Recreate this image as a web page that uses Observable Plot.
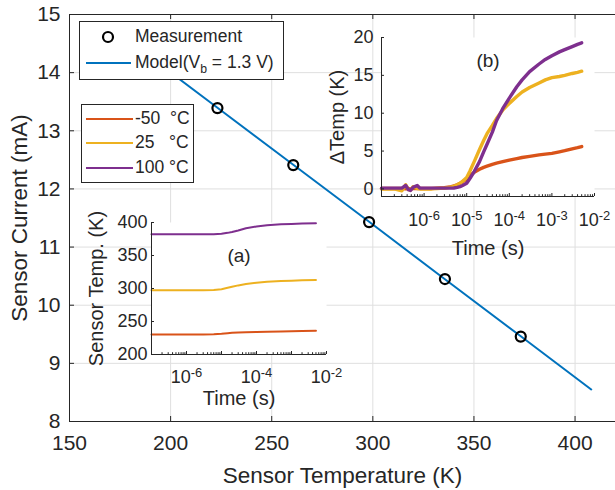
<!DOCTYPE html>
<html>
<head>
<meta charset="utf-8">
<script src="https://cdn.jsdelivr.net/npm/d3@7"></script>
<script src="https://cdn.jsdelivr.net/npm/@observablehq/plot@0.6"></script>
<style>
  body { margin: 0; background: white; }
  #wrap { position: relative; width: 615px; height: 490px; overflow: hidden; font-family: "Liberation Sans", Arial, sans-serif; color: #262626; }
  .abs { position: absolute; }
  .legend { position: absolute; background: white; border: 1px solid #262626; box-sizing: border-box; font-size: 17.5px; }
  .row { position: absolute; left: 0; white-space: pre; line-height: 1; }
</style>
</head>
<body>
<div id="wrap">
  <div id="main" class="abs" style="left:0;top:0"></div>
  <div id="insetA" class="abs" style="left:90px;top:210px"></div>
  <div id="insetB" class="abs" style="left:300px;top:20px"></div>
  <div id="leg1" class="legend" style="left:79px;top:21px;width:205px;height:59px"></div>
  <div id="leg2" class="legend" style="left:81px;top:104px;width:113px;height:79px"></div>
</div>
<script>
const FONT = '"Liberation Sans", Arial, sans-serif';
const INK = "#262626";
const GRID = "#dfdfdf";

// ---------- main chart data ----------
const mainXTicks = [150, 200, 250, 300, 350, 400];
const mainYTicks = [8, 9, 10, 11, 12, 13, 14, 15];
const measT = [223.15, 260.65, 298.15, 335.65, 373.15];
const measI = [13.39, 12.41, 11.43, 10.45, 9.46];
const modelT = [173, 223, 260.5, 298, 335.5, 373, 408];
const modelI = [14.71, 13.40, 12.42, 11.44, 10.45, 9.47, 8.55];

// ---------- series (legend) ----------
const seriesNames = ["-50  °C", "25   °C", "100 °C"];
const seriesColors = ["#D95319", "#EDB120", "#7E2F8E"];

// ---------- inset (a): sensor temperature vs time ----------
const tA = [1e-7, 1e-6, 3e-6, 6e-6, 1e-5, 1.5e-5, 2e-5, 3e-5, 5e-5, 1e-4, 2e-4, 5e-4, 1e-3, 2e-3, 5e-3];
const sTm50 = [230.3, 230.3, 230.4, 230.8, 231.5, 232.3, 232.8, 233.3, 233.7, 234.1, 234.4, 234.8, 235.1, 235.5, 236.0];
const sT25  = [297.4, 297.4, 297.5, 297.9, 298.9, 301.0, 302.6, 304.7, 306.7, 308.7, 310.2, 311.3, 311.9, 312.4, 312.9];
const sT100 = [382.2, 382.2, 382.2, 382.3, 382.8, 384.3, 385.7, 388.0, 391.2, 393.9, 395.9, 397.3, 397.9, 398.4, 399.0];
const aYTicks = [200, 250, 300, 350, 400];
const aXLabelTicks = [1e-6, 1e-4, 1e-2];

// ---------- inset (b): delta temperature vs time ----------
const tB = [1e-7, 2e-7, 3e-7, 3.7e-7, 4.3e-7, 4.8e-7, 5.5e-7, 6.9e-7, 8e-7, 1e-6, 1.5e-6, 2e-6, 3e-6, 4e-6, 5e-6, 6e-6, 7e-6, 8e-6, 1e-5, 1.2e-5, 1.5e-5, 2e-5, 2.5e-5, 3e-5, 4e-5, 5e-5, 7e-5, 1e-4, 1.5e-4, 2e-4, 3e-4, 5e-4, 7e-4, 1e-3, 1.5e-3, 2e-3, 3e-3, 4e-3, 5e-3];
const dTm50 = [0.05,0.05,0.05,0.0,0.05,0.0,0.05,0.05,0.05,0.05,0.05,0.1,0.15,0.25,0.4,0.55,0.75,0.95,1.3,1.8,2.2,2.6,2.85,3.0,3.25,3.4,3.6,3.8,4.0,4.15,4.3,4.5,4.6,4.7,4.9,5.05,5.3,5.45,5.6];
const dT25  = [0.0,0.0,-0.25,0.55,-0.1,-0.15,0.3,0.05,0.0,0.0,0.0,0.05,0.1,0.2,0.35,0.55,0.75,1.0,1.5,2.4,3.6,5.2,6.4,7.3,8.4,9.3,10.4,11.3,12.2,12.8,13.4,14.0,14.4,14.7,14.85,15.0,15.25,15.4,15.55];
const dT100 = [0.1,0.1,0.1,0.45,-0.1,-0.2,0.2,0.45,0.1,0.1,0.1,0.1,0.1,0.1,0.12,0.2,0.3,0.45,0.75,1.4,2.3,3.6,4.9,5.9,7.5,9.0,10.6,12.0,13.5,14.4,15.5,16.5,17.1,17.6,18.1,18.4,18.8,19.1,19.3];
const bYTicks = [0, 5, 10, 15, 20];
const bXLabelTicks = [1e-6, 1e-5, 1e-4, 1e-3, 1e-2];

const decades = [1e-7, 1e-6, 1e-5, 1e-4, 1e-3, 1e-2];
const minorTicks = decades.slice(0, -1).flatMap(d => [2,3,4,5,6,7,8,9].map(k => k * d));

function rows(t, ys) {
  return ys.flatMap((arr, s) => arr.map((v, i) => ({t: t[i], v, s})));
}
const logFmt = d => "10^" + Math.round(Math.log10(d));
function supify(svg) {
  d3.select(svg).selectAll('g[aria-label="x-axis tick label"] text').each(function () {
    const s = this.textContent;
    if (!s.includes("^")) return;
    const [b, e] = s.split("^");
    const el = d3.select(this);
    el.text(null);
    el.append("tspan").text(b);
    el.append("tspan").attr("dy", "-0.5em").attr("font-size", "0.72em").text(e);
  });
}

// ---------- main plot ----------
{
  const W = 615, H = 490, mL = 69, mT = 14, mB = 69, mR = 0;
  const pH = H - mT - mB, pW = W - mL - mR;
  const meas = measT.map((t, i) => ({t, v: measI[i]}));
  const model = modelT.map((t, i) => ({t, v: modelI[i]}));
  const svg = Plot.plot({
    width: W, height: H, marginLeft: mL, marginTop: mT, marginBottom: mB, marginRight: mR,
    style: {fontFamily: FONT, background: "transparent", color: INK, overflow: "visible"},
    x: {type: "linear", domain: [150, 420]},
    y: {type: "linear", domain: [8, 15]},
    marks: [
      Plot.ruleX(mainXTicks, {stroke: GRID, strokeWidth: 1}),
      Plot.ruleY(mainYTicks, {stroke: GRID, strokeWidth: 1}),
      Plot.line(model, {x: "t", y: "v", stroke: "#0072BD", strokeWidth: 2}),
      Plot.dot(meas, {x: "t", y: "v", r: 5, stroke: "black", strokeWidth: 2.2, fill: "none"}),
      Plot.ruleY([8], {stroke: INK}),
      Plot.ruleY([15], {stroke: INK}),
      Plot.ruleX([150], {stroke: INK}),
      Plot.ruleX(mainXTicks, {stroke: INK, insetTop: pH - 5}),
      Plot.ruleX(mainXTicks, {stroke: INK, insetBottom: pH - 5}),
      Plot.ruleY(mainYTicks, {stroke: INK, insetRight: pW - 5}),
      Plot.axisX({ticks: mainXTicks, tickSize: 0, tickPadding: 14, fontSize: 21, label: null, tickFormat: d => String(d)}),
      Plot.axisY({ticks: mainYTicks, tickSize: 0, tickPadding: 9, fontSize: 21, label: null, tickFormat: d => String(d)}),
      Plot.text(["Sensor Temperature (K)"], {frameAnchor: "bottom", textAnchor: "middle", lineAnchor: "middle", dy: 54, fontSize: 22.5, fill: INK}),
      Plot.text(["Sensor Current (mA)"], {frameAnchor: "left", textAnchor: "middle", lineAnchor: "middle", rotate: -90, dx: -50, fontSize: 22.5, fill: INK})
    ]
  });
  document.getElementById("main").appendChild(svg);
}

// ---------- inset (a) ----------
{
  const W = 250, H = 200, mL = 61, mT = 12, mR = 14, mB = 56;
  const pH = H - mT - mB, pW = W - mL - mR;
  const data = rows(tA, [sTm50, sT25, sT100]);
  const svg = Plot.plot({
    width: W, height: H, marginLeft: mL, marginTop: mT, marginBottom: mB, marginRight: mR,
    style: {fontFamily: FONT, background: "transparent", color: INK, overflow: "visible"},
    x: {type: "log", domain: [1e-7, 1e-2]},
    y: {type: "linear", domain: [200, 400]},
    marks: [
      Plot.frame({fill: "white", stroke: "none"}),
      Plot.line(data, {x: "t", y: "v", z: "s", stroke: d => seriesColors[d.s], strokeWidth: 2}),
      Plot.ruleY([200], {stroke: INK}),
      Plot.ruleX([1e-7], {stroke: INK}),
      Plot.ruleX(decades, {stroke: INK, insetTop: pH - 3}),
      Plot.ruleX(minorTicks, {stroke: INK, insetTop: pH - 1.8}),
      Plot.ruleY(aYTicks, {stroke: INK, insetRight: pW - 3}),
      Plot.axisX({ticks: aXLabelTicks, tickSize: 0, tickPadding: 16, fontSize: 18, label: null, tickFormat: logFmt}),
      Plot.axisY({ticks: aYTicks, tickSize: 0, tickPadding: 4, fontSize: 18, label: null, tickFormat: d => String(d)}),
      Plot.text(["(a)"], {frameAnchor: "top", textAnchor: "middle", lineAnchor: "middle", dy: 33, fontSize: 19, fill: INK}),
      Plot.text(["Time (s)"], {frameAnchor: "bottom", textAnchor: "middle", lineAnchor: "middle", dy: 44, fontSize: 20, fill: INK}),
      Plot.text(["Sensor Temp. (K)"], {frameAnchor: "left", textAnchor: "middle", lineAnchor: "middle", rotate: -90, dx: -55, fontSize: 20, fill: INK})
    ]
  });
  supify(svg);
  document.getElementById("insetA").appendChild(svg);
}

// ---------- inset (b) ----------
{
  const W = 315, H = 245, mL = 81, mT = 17, mR = 21, mB = 69;
  const pH = H - mT - mB, pW = W - mL - mR;
  const data = rows(tB, [dTm50, dT25, dT100]);
  const svg = Plot.plot({
    width: W, height: H, marginLeft: mL, marginTop: mT, marginBottom: mB, marginRight: mR,
    style: {fontFamily: FONT, background: "transparent", color: INK, overflow: "visible"},
    x: {type: "log", domain: [1e-7, 1e-2]},
    y: {type: "linear", domain: [-1, 20]},
    marks: [
      Plot.frame({fill: "white", stroke: "none"}),
      Plot.line(data, {x: "t", y: "v", z: "s", stroke: d => seriesColors[d.s], strokeWidth: 3.4}),
      Plot.ruleY([-1], {stroke: INK}),
      Plot.ruleX([1e-7], {stroke: INK}),
      Plot.ruleX(decades, {stroke: INK, insetTop: pH - 3}),
      Plot.ruleX(minorTicks, {stroke: INK, insetTop: pH - 1.8}),
      Plot.ruleY(bYTicks, {stroke: INK, insetRight: pW - 3}),
      Plot.axisX({ticks: bXLabelTicks, tickSize: 0, tickPadding: 17, fontSize: 18, label: null, tickFormat: logFmt}),
      Plot.axisY({ticks: bYTicks, tickSize: 0, tickPadding: 8, fontSize: 18, label: null, tickFormat: d => String(d)}),
      Plot.text(["(b)"], {frameAnchor: "top", textAnchor: "middle", lineAnchor: "middle", dy: 23, fontSize: 19, fill: INK}),
      Plot.text(["Time (s)"], {frameAnchor: "bottom", textAnchor: "middle", lineAnchor: "middle", dy: 52, fontSize: 20, fill: INK}),
      Plot.text(["ΔTemp (K)"], {frameAnchor: "left", textAnchor: "middle", lineAnchor: "middle", rotate: -90, dx: -44, fontSize: 20, fill: INK})
    ]
  });
  supify(svg);
  document.getElementById("insetB").appendChild(svg);
}

// ---------- legends (HTML) ----------
{
  const l1 = document.getElementById("leg1");
  l1.innerHTML = `
    <svg class="abs" style="left:0;top:0" width="205" height="59">
      <circle cx="28" cy="15" r="5" fill="none" stroke="black" stroke-width="2.2"></circle>
      <line x1="6" x2="51" y1="41" y2="41" stroke="#0072BD" stroke-width="2"></line>
    </svg>
    <div class="row" style="left:55px;top:6px">Measurement</div>
    <div class="row" style="left:55px;top:32px">Model(V<span style="font-size:0.7em;position:relative;top:0.4em">b</span> = 1.3 V)</div>`;
  const l2 = document.getElementById("leg2");
  const ys = [14, 38, 63];
  l2.innerHTML = `<svg class="abs" style="left:0;top:0" width="113" height="79">` +
    seriesColors.map((c, i) => `<line x1="4" x2="51" y1="${ys[i]}" y2="${ys[i]}" stroke="${c}" stroke-width="2"></line>`).join("") +
    `</svg>` +
    seriesNames.map((n, i) => `<div class="row" style="left:53px;top:${ys[i] - 9}px">${n}</div>`).join("");
}
</script>
</body>
</html>
